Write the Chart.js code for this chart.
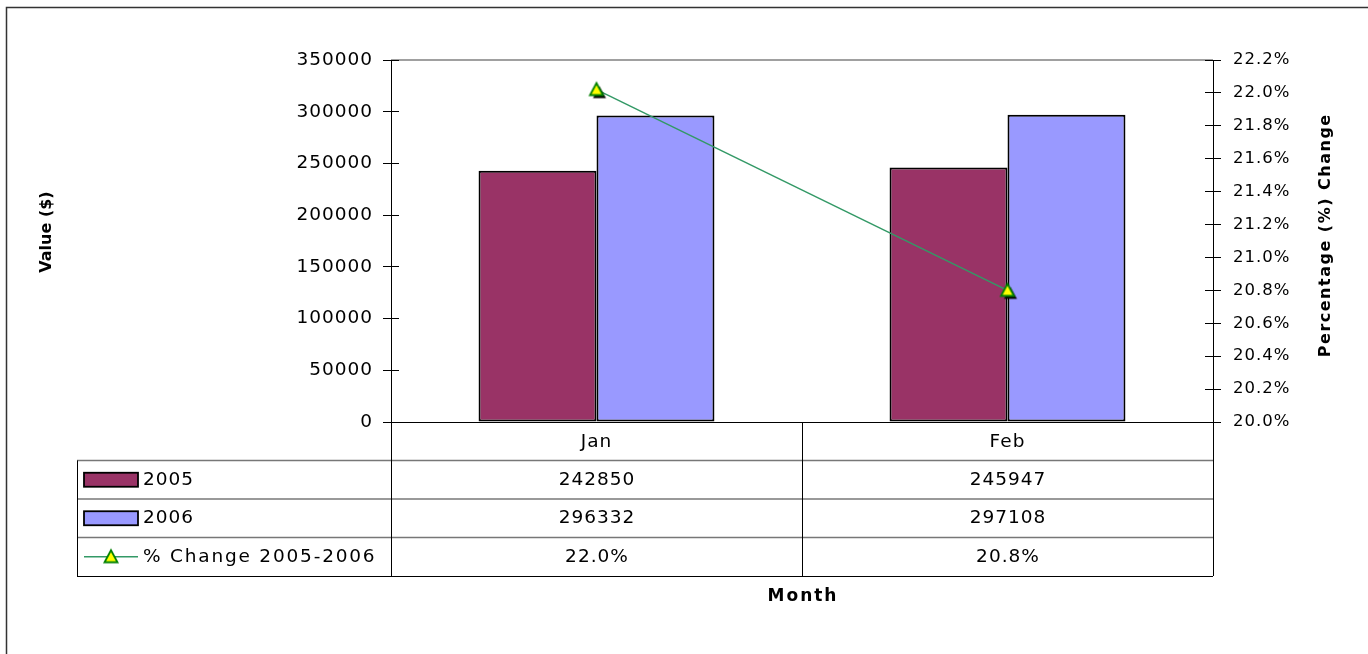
<!DOCTYPE html>
<html>
<head>
<meta charset="utf-8">
<script src="https://cdn.jsdelivr.net/npm/chart.js@4.4.1/dist/chart.umd.min.js"></script>
<style>
	body { margin: 0; background: #fff; overflow: hidden; }
	#wrap { width: 1368px; height: 654px; }
</style>
</head>
<body>
<div id="wrap"><canvas id="chart"></canvas></div>
<script>
// Chart data.
var months = ["Jan", "Feb"];
var values2005 = [242850, 245947];
var values2006 = [296332, 297108];
var pctChange = [22.02, 20.8];
var seriesNames = ["2005", "2006", "% Change 2005-2006"];
var valueAxis = [0, 350000, 50000]; // min, max, step
var pctAxis = [20.0, 22.2, 0.2];
var axisTitles = ["Value ($)", "Percentage (%) Change", "Month"];

var FONT = "'DejaVu Sans', Verdana, sans-serif";
var colors = { y2005: "#993366", y2006: "#9999ff", line: "#339966" };

// Excel-like triangle marker, with its black shadow.
function makeMarker(shadow) {
	var c = document.createElement("canvas");
	c.width = 24;
	c.height = 24;
	var g = c.getContext("2d");
	function tri(dx, dy) {
		g.beginPath();
		g.moveTo(12 + dx, 5.5 + dy);
		g.lineTo(18.5 + dx, 17.5 + dy);
		g.lineTo(5.5 + dx, 17.5 + dy);
		g.closePath();
	}
	if (shadow) {
		tri(3, 3);
		g.fillStyle = "#000";
		g.fill();
	}
	tri(0, 0);
	g.fillStyle = "#ffff00";
	g.fill();
	g.lineWidth = 1.8;
	g.strokeStyle = "#008000";
	g.stroke();
	return c;
}
var marker = makeMarker(true);
var legendMarker = makeMarker(false);

function align(p) {
	return Math.round(p - 0.5) + 0.5;
}

function line(ctx, x1, y1, x2, y2) {
	ctx.beginPath();
	ctx.moveTo(x1, y1);
	ctx.lineTo(x2, y2);
	ctx.stroke();
}

function spacedText(ctx, text, x, y, font, spacing, alignTo) {
	ctx.font = font;
	ctx.letterSpacing = spacing + "px";
	ctx.textAlign = alignTo;
	ctx.textBaseline = "middle";
	// letterSpacing adds a gap after the last glyph too
	var shift = alignTo === "center" ? spacing / 2 : alignTo === "right" ? spacing : 0;
	ctx.fillText(text, x + shift, y);
}

var excelPlugin = {
	id: "excelTable",
	beforeUpdate: function (chart) {
		chart.ctx.letterSpacing = "1px";
	},
	beforeDraw: function (chart) {
		var ctx = chart.ctx;
		ctx.letterSpacing = "1px";
		ctx.save();
		ctx.strokeStyle = "#333";
		ctx.lineWidth = 1.5;
		ctx.strokeRect(6.5, 7.5, 1400, 700);
		ctx.restore();
	},
	afterDraw: function (chart) {
		var ctx = chart.ctx;
		var area = chart.chartArea;
		var xs = chart.scales.x;
		var ys = chart.scales.y;
		var y1s = chart.scales.y1;
		var half = (xs.getPixelForValue(1) - xs.getPixelForValue(0)) / 2;
		var tableLeft = 77;
		var rowH = 38.5;
		var top = area.bottom;

		ctx.save();

		// top edge of the plot area
		ctx.strokeStyle = "#808080";
		ctx.lineWidth = 1.5;
		line(ctx, area.left, area.top, area.right, area.top);

		// inner half of the cross ticks
		ctx.strokeStyle = "#000";
		ctx.lineWidth = 1;
		ys.ticks.forEach(function (t) {
			var p = align(ys.getPixelForValue(t.value));
			line(ctx, area.left, p, area.left + 8, p);
		});
		y1s.ticks.forEach(function (t) {
			var p = align(y1s.getPixelForValue(t.value));
			line(ctx, area.right - 8, p, area.right, p);
		});

		// data table grid
		var bottom = top + rowH * 4;
		ctx.strokeStyle = "#777";
		ctx.lineWidth = 1.5;
		for (var r = 1; r < 4; r++) {
			line(ctx, tableLeft, top + rowH * r, area.right, top + rowH * r);
		}
		ctx.strokeStyle = "#000";
		ctx.lineWidth = 1;
		line(ctx, tableLeft, align(bottom), area.right, align(bottom));
		line(ctx, align(tableLeft), top + rowH, align(tableLeft), bottom);
		line(ctx, align(area.left), top, align(area.left), bottom);
		for (var i = 0; i < months.length; i++) {
			var edge = align(xs.getPixelForValue(i) + half);
			line(ctx, edge, top, edge, bottom);
		}

		// legend keys
		var keyL = 84, keyW = 54, keyH = 14;
		var fills = [colors.y2005, colors.y2006];
		for (var k = 0; k < 2; k++) {
			var cy = top + rowH * (k + 1.5);
			ctx.fillStyle = fills[k];
			ctx.fillRect(keyL, cy - keyH / 2, keyW, keyH);
			ctx.strokeStyle = "#000";
			ctx.lineWidth = 1.8;
			ctx.strokeRect(keyL, cy - keyH / 2, keyW, keyH);
		}
		var ly = top + rowH * 3.5;
		ctx.strokeStyle = colors.line;
		ctx.lineWidth = 1.5;
		line(ctx, keyL, ly, keyL + keyW, ly);
		ctx.drawImage(legendMarker, keyL + keyW / 2 - 12, ly - 12);

		// table texts
		ctx.fillStyle = "#000";
		var cellFont = "18.5px " + FONT;
		for (var s = 0; s < 3; s++) {
			spacedText(ctx, seriesNames[s], 143, top + rowH * (s + 1.5), cellFont, s < 2 ? 1 : 1.8, "left");
		}
		var rows = [values2005, values2006];
		for (var m = 0; m < months.length; m++) {
			var cx = xs.getPixelForValue(m);
			spacedText(ctx, String(rows[0][m]), cx, top + rowH * 1.5, cellFont, 1, "center");
			spacedText(ctx, String(rows[1][m]), cx, top + rowH * 2.5, cellFont, 1, "center");
			spacedText(ctx, pctChange[m].toFixed(1) + "%", cx, top + rowH * 3.5, cellFont, 1, "center");
		}

		// axis titles
		var midY = (area.top + area.bottom) / 2;
		ctx.save();
		ctx.translate(47, midY - 9);
		ctx.rotate(-Math.PI / 2);
		spacedText(ctx, axisTitles[0], 0, 0, "bold 16px " + FONT, 0, "center");
		ctx.restore();

		ctx.save();
		ctx.beginPath();
		ctx.rect(1290, 115, 70, 300);
		ctx.clip();
		ctx.translate(1326, midY - 5);
		ctx.rotate(-Math.PI / 2);
		spacedText(ctx, axisTitles[1], 0, 0, "bold 16px " + FONT, 1.5, "center");
		ctx.restore();

		spacedText(ctx, axisTitles[2], (area.left + area.right) / 2, 597, "bold 17px " + FONT, 2, "center");

		ctx.restore();
	},
};

Chart.defaults.font.family = FONT;
Chart.defaults.color = "#000";

var ctx = document.getElementById("chart");
var config = {
	type: "bar",
	data: {
		labels: months,
		datasets: [
			{
				type: "line",
				label: seriesNames[2],
				data: pctChange,
				yAxisID: "y1",
				borderColor: colors.line,
				borderWidth: 1.5,
				pointStyle: marker,
				pointRadius: 6,
				tension: 0,
				order: 0,
			},
			{
				label: seriesNames[0],
				data: values2005,
				yAxisID: "y",
				backgroundColor: colors.y2005,
				borderColor: "#000",
				borderWidth: 2,
				borderSkipped: false,
				categoryPercentage: 0.574,
				barPercentage: 1,
				order: 1,
			},
			{
				label: seriesNames[1],
				data: values2006,
				yAxisID: "y",
				backgroundColor: colors.y2006,
				borderColor: "#000",
				borderWidth: 2,
				borderSkipped: false,
				categoryPercentage: 0.574,
				barPercentage: 1,
				order: 1,
			},
		],
	},
	plugins: [excelPlugin],
	options: {
		responsive: true,
		maintainAspectRatio: false,
		animation: false,
		layout: {
			padding: { top: 60, left: 30, right: 29, bottom: 40 },
		},
		plugins: {
			legend: { display: false },
			tooltip: { enabled: false },
		},
		scales: {
			x: {
				offset: true,
				grid: { display: false, drawTicks: false, tickLength: 0 },
				border: { display: true, color: "#000", width: 1 },
				ticks: { font: { size: 18.5 }, padding: 9, maxRotation: 0 },
				afterFit: function (scale) {
					scale.height = 192;
				},
			},
			y: {
				position: "left",
				min: valueAxis[0],
				max: valueAxis[1],
				grid: { drawOnChartArea: false, tickLength: 8, color: "#000" },
				border: { display: true, color: "#000", width: 1 },
				ticks: {
					stepSize: valueAxis[2],
					font: { size: 18.5 },
					padding: 10,
					callback: function (value) {
						return String(value);
					},
				},
				afterFit: function (scale) {
					scale.width = 361;
				},
			},
			y1: {
				position: "right",
				min: pctAxis[0],
				max: pctAxis[1],
				grid: { drawOnChartArea: false, tickLength: 8, color: "#000" },
				border: { display: true, color: "#000", width: 1 },
				ticks: {
					stepSize: pctAxis[2],
					font: { size: 16.5 },
					padding: 12,
					callback: function (value) {
						return value.toFixed(1) + "%";
					},
				},
				afterFit: function (scale) {
					scale.width = 126;
				},
			},
		},
	},
};

window.excelChart = new Chart(ctx, config);
</script>
</body>
</html>
